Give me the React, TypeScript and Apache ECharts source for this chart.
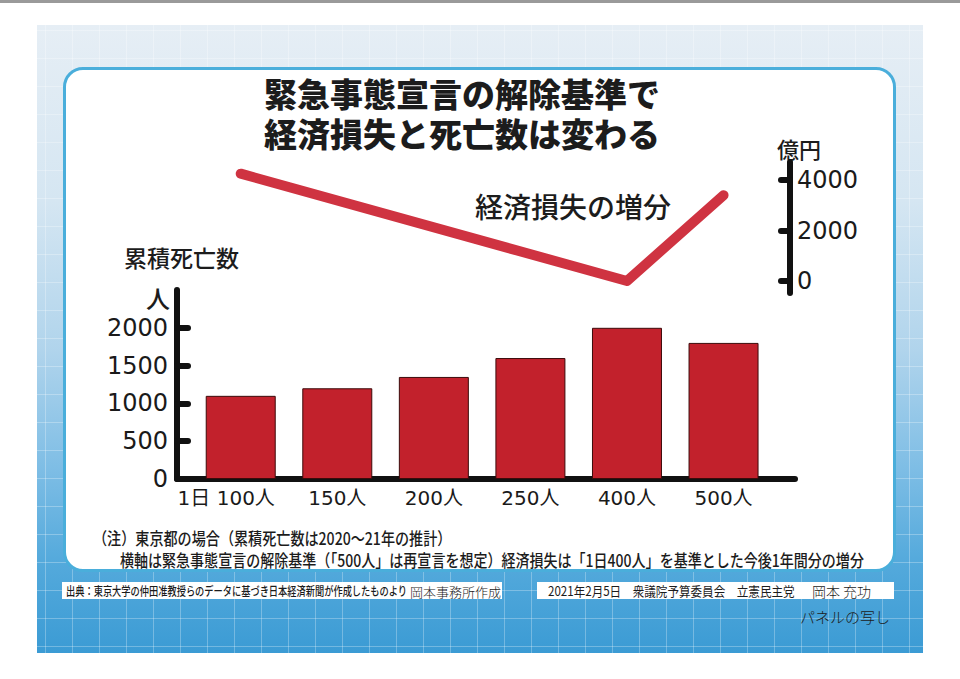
import React, { useEffect, useRef } from "react";
import * as echarts from "echarts";

// ---- data ----
const categories = ["1日 100人", "150人", "200人", "250人", "400人", "500人"];
const deaths = [1100, 1200, 1350, 1600, 2000, 1800]; // 累積死亡数 (人)
const lossValues: (number | null)[] = [4250, null, null, null, 0, 3400]; // 経済損失の増分 (億円)
const leftTicks = [0, 500, 1000, 1500, 2000];
const rightTicks = [0, 2000, 4000];
const catIndex = [0, 1, 2, 3, 4, 5];

const JP = '"Noto Sans CJK JP", "Noto Sans", sans-serif';
const NUM = '"DejaVu Sans", "Noto Sans CJK JP", sans-serif';

function txt(text: string, x: number, y: number, fontSize: number, extra: any = {}, style: any = {}) {
  return {
    type: "text",
    x,
    y,
    ...extra,
    style: {
      text,
      fontSize,
      lineHeight: fontSize,
      fontFamily: JP,
      fill: "#1c1c1c",
      verticalAlign: "middle",
      textVerticalAlign: "middle",
      ...style,
    },
  };
}

export default function App() {
  const ref = useRef<HTMLDivElement>(null);

  useEffect(() => {
    if (!ref.current) return;
    const chart = echarts.init(ref.current, null, { renderer: "svg" });
    const xMin = -0.66;
    const xMax = 5.74;
    const axisLineStyle = { color: "#111", width: 6, cap: "round" };
    chart.setOption({
      animation: false,
      backgroundColor: "transparent",
      grid: [
        { left: 177, top: 290, width: 618, height: 189 },
        { left: 177, top: 162, width: 618, height: 131 },
      ],
      xAxis: [
        {
          type: "value",
          gridIndex: 0,
          min: xMin,
          max: xMax,
          axisLine: { show: true, onZero: false, lineStyle: axisLineStyle },
          axisTick: { show: false },
          splitLine: { show: false },
          axisLabel: {
            customValues: catIndex,
            margin: 9,
            fontSize: 20,
            fontFamily: NUM,
            color: "#1a1a1a",
            formatter: (v: number) => {
              const i = Math.round(v);
              return i === 0 ? categories[0] + "{sp| }" : categories[i];
            },
            rich: { sp: { width: 29, fontSize: 20 } },
          },
        },
        {
          type: "value",
          gridIndex: 1,
          min: xMin,
          max: xMax,
          show: false,
        },
      ],
      yAxis: [
        {
          type: "value",
          gridIndex: 0,
          min: 0,
          max: 2500,
          position: "left",
          axisLine: { show: true, onZero: false, lineStyle: axisLineStyle },
          axisTick: {
            show: true,
            inside: true,
            length: 11,
            customValues: [500, 1000, 1500, 2000],
            lineStyle: { color: "#111", width: 6, cap: "round" },
          },
          splitLine: { show: false },
          axisLabel: {
            customValues: leftTicks,
            margin: 9,
            fontSize: 24,
            fontFamily: NUM,
            color: "#1a1a1a",
            formatter: (v: number) => String(v),
          },
        },
        {
          type: "value",
          gridIndex: 1,
          min: -475,
          max: 4713,
          position: "right",
          offset: -5,
          axisLine: { show: true, onZero: false, lineStyle: axisLineStyle },
          axisTick: {
            show: true,
            inside: true,
            length: 9,
            customValues: rightTicks,
            lineStyle: { color: "#111", width: 6, cap: "round" },
          },
          splitLine: { show: false },
          axisLabel: {
            customValues: rightTicks,
            margin: 7,
            fontSize: 24,
            fontFamily: NUM,
            color: "#1a1a1a",
            formatter: (v: number) => String(v),
          },
        },
      ],
      series: [
        {
          type: "bar",
          name: "累積死亡数",
          xAxisIndex: 0,
          yAxisIndex: 0,
          barWidth: 70,
          data: deaths.map((v, i) => [i, v]),
          itemStyle: { color: "#c2212c", borderColor: "#3c0b0b", borderWidth: 1 },
          z: 3,
        },
        {
          type: "line",
          name: "経済損失の増分",
          xAxisIndex: 1,
          yAxisIndex: 1,
          connectNulls: true,
          symbol: "none",
          data: lossValues.map((v, i) => [i, v]),
          lineStyle: { color: "#cf3341", width: 10, cap: "round", join: "round" },
          z: 4,
        },
      ],
      graphic: [
        txt("緊急事態宣言の解除基準で", 264, 93, 33, {}, { fontWeight: 900 }),
        txt("経済損失と死亡数は変わる", 264, 133, 33, {}, { fontWeight: 900 }),
        txt("経済損失の増分", 475, 206, 28, {}, { fontWeight: 500 }),
        txt("累積死亡数", 124, 257, 23, {}, { fontWeight: 500 }),
        txt("人", 146, 297, 24, {}, { fontWeight: 500 }),
        txt("億円", 777, 148, 22, {}, { fontWeight: 500 }),
        txt("（注）東京都の場合（累積死亡数は2020〜21年の推計）", 93, 537, 17, { scaleX: 0.83 }, { fontWeight: 500 }),
        txt(
          "横軸は緊急事態宣言の解除基準（「500人」は再宣言を想定）経済損失は「1日400人」を基準とした今後1年間分の増分",
          120,
          559,
          17,
          { scaleX: 0.825 },
          { fontWeight: 500 }
        ),
        { type: "rect", shape: { x: 62, y: 582, width: 440, height: 17 }, style: { fill: "#ffffff" } },
        { type: "rect", shape: { x: 537, y: 582, width: 357, height: 17 }, style: { fill: "#ffffff" } },
        txt("出典：東京大学の仲田准教授らのデータに基づき日本経済新聞が作成したものより", 66, 591, 12, { scaleX: 0.77 }, { fontWeight: 500 }),
        txt("岡本事務所作成", 410, 591, 13, {}, { fontWeight: 300 }),
        txt("2021年2月5日　衆議院予算委員会　立憲民主党", 548, 591, 13, { scaleX: 0.89 }, { fontWeight: 400 }),
        txt("岡本 充功", 812, 591, 14, {}, { fontWeight: 300 }),
        txt("パネルの写し", 800, 616, 15, {}, { fontWeight: 300 }),
      ],
    });
    return () => chart.dispose();
  }, []);

  return (
    <div
      style={{
        position: "absolute",
        left: 0,
        top: 0,
        width: 960,
        height: 679,
        background: "#ffffff",
        overflow: "hidden",
      }}
    >
      <div style={{ position: "absolute", left: 0, top: 0, width: 960, height: 3, background: "#9a9a9a" }} />
      <div
        style={{
          position: "absolute",
          left: 37,
          top: 25,
          width: 886,
          height: 628,
          background:
            "linear-gradient(to right, rgba(255,255,255,0.28) 1px, transparent 1px) 8px 5px / 27px 28px, " +
            "linear-gradient(to bottom, rgba(255,255,255,0.28) 1px, transparent 1px) 8px 5px / 27px 28px, " +
            "linear-gradient(to bottom, #e6eef5 0%, #d5e6f2 28%, #b0d4ec 52%, #7dbde5 71%, #55aadc 85%, #3b9bd4 100%)",
        }}
      />
      <div
        style={{
          position: "absolute",
          left: 63,
          top: 67,
          width: 827,
          height: 499,
          background: "#ffffff",
          border: "3px solid #4aaedb",
          borderRadius: 20,
        }}
      />
      <div ref={ref} style={{ position: "absolute", left: 0, top: 0, width: 960, height: 679 }} />
    </div>
  );
}
